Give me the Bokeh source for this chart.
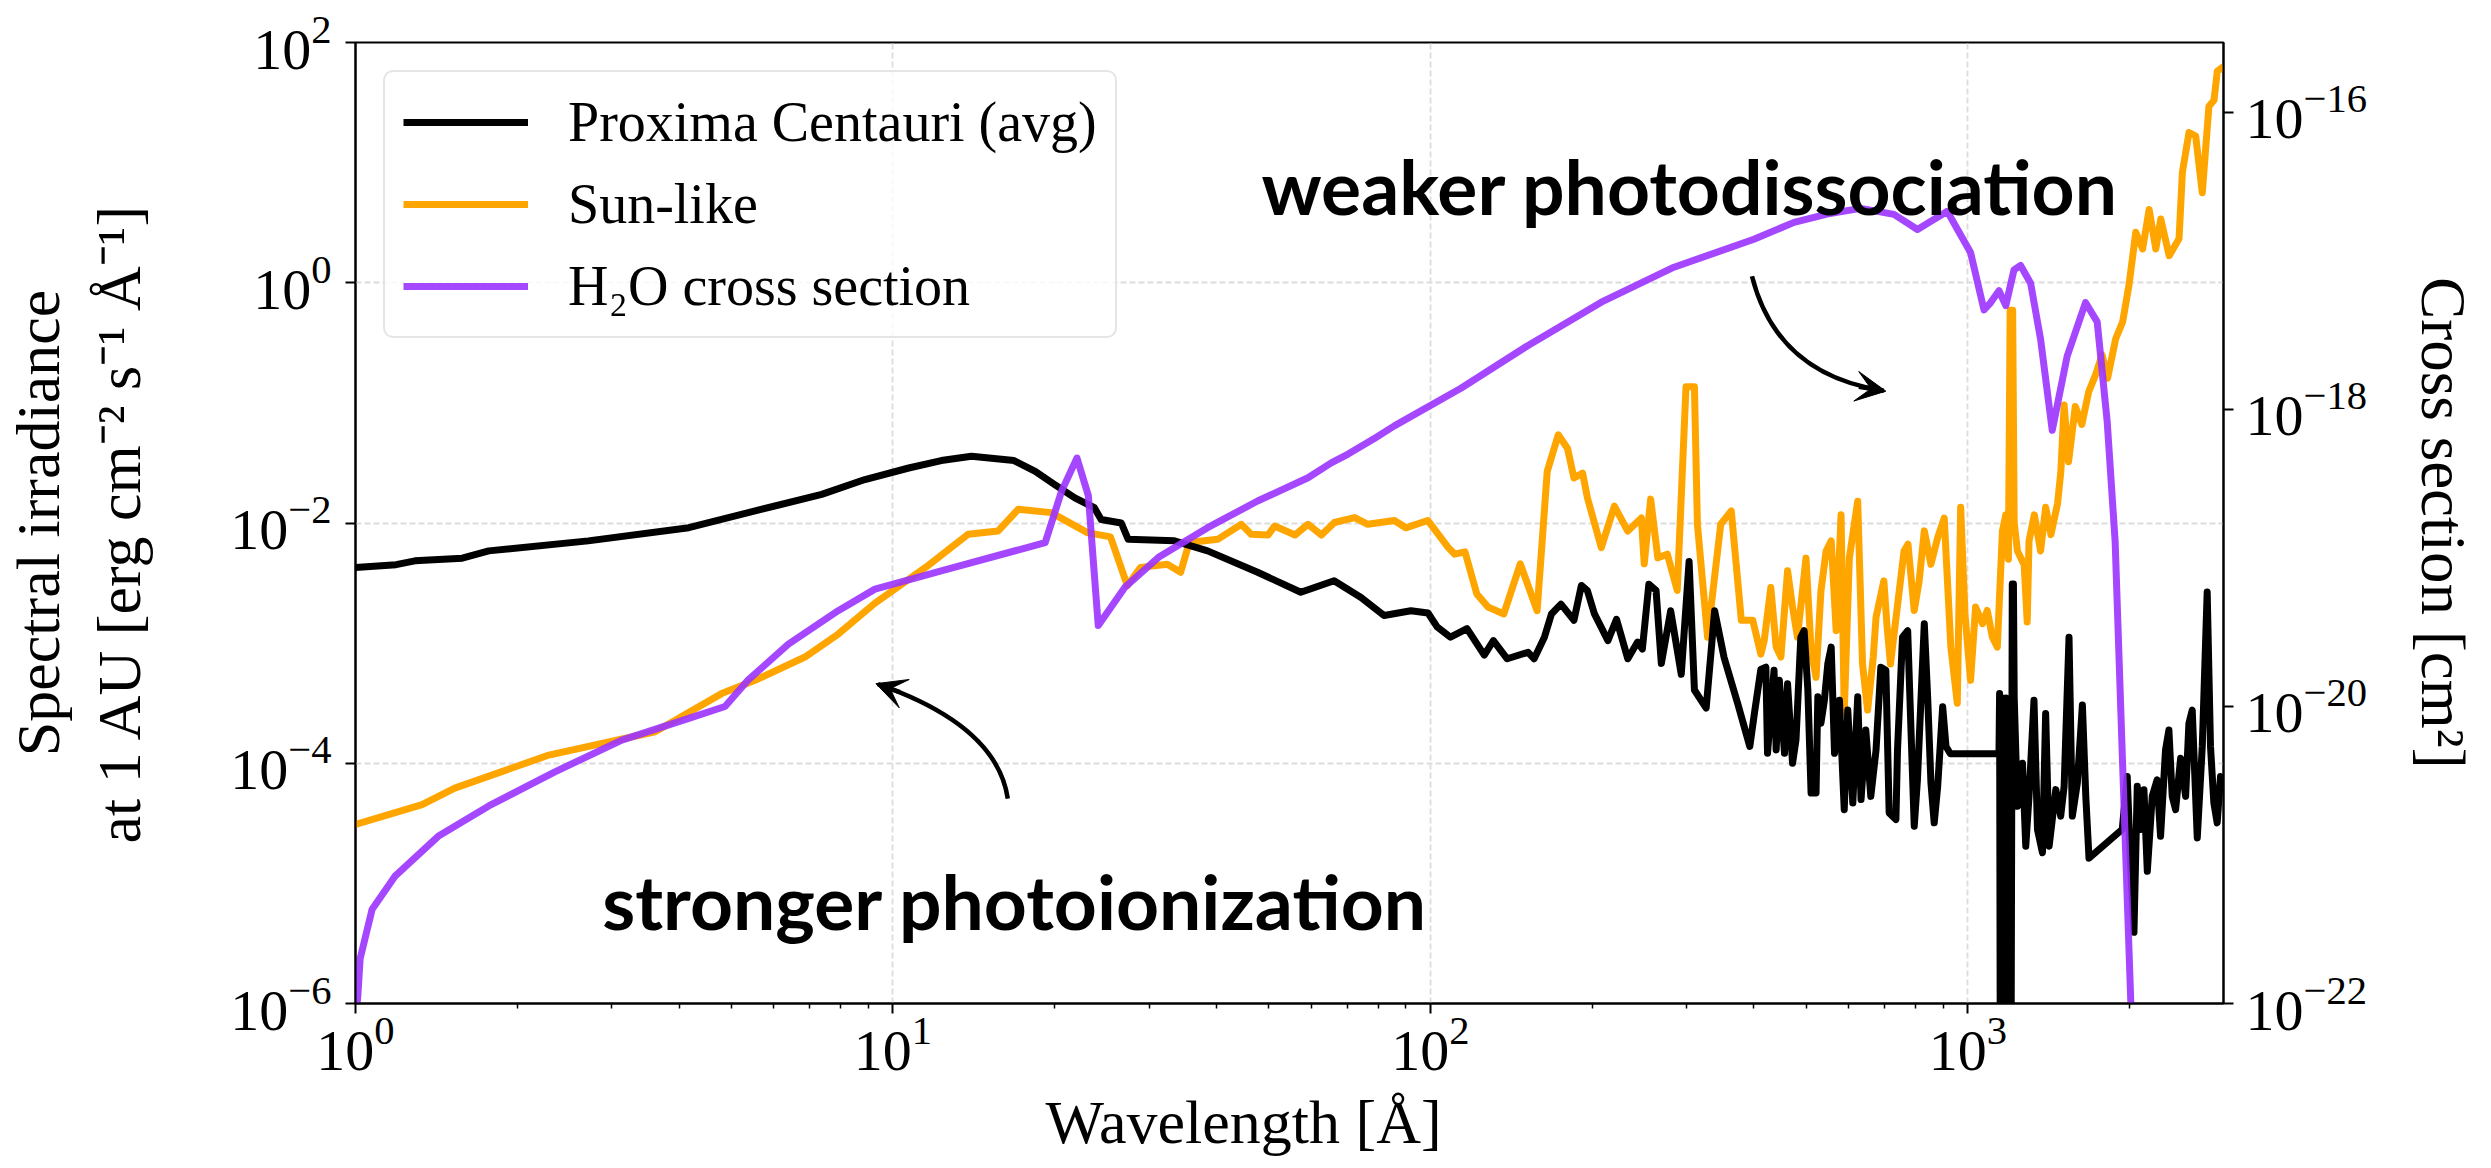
import numpy as np
from bokeh.plotting import figure
from bokeh.models import (Range1d, LogScale, LogAxis, FixedTicker, Legend, LegendItem,
                          Label, Arrow, VeeHead, Title)
from bokeh.embed import file_html
from bokeh.resources import INLINE

# ---------------- data ----------------
prox_wl = [1.00, 1.19, 1.29, 1.58, 1.77, 2.71, 4.17, 5.54, 7.37, 8.87, 10.7, 12.3, 14.0, 16.8,
           18.4, 20.0, 21.8, 23.7, 24.4, 26.6, 27.4, 33.4, 38.5, 47.7, 57.4, 66.2, 74.3, 82, 92,
           99, 103, 109, 117, 126, 131, 139, 152, 156, 163, 168, 175, 185, 191, 196, 202, 214,
           222, 233, 243, 248, 255, 263, 269, 280, 293, 303, 310, 326, 338, 352, 373, 393, 401,
           412, 421, 424, 436, 440, 446, 456, 462, 472, 479, 489, 496, 504, 511, 522, 526, 533,
           541, 549, 557, 565, 577, 589, 598, 611, 624, 633, 646, 660, 675, 689, 704, 714, 735,
           740, 756, 773, 784, 795, 806, 830, 842, 854, 866, 879, 898, 911, 928,
           1143, 1146, 1152, 1160, 1168, 1178, 1188, 1200, 1210, 1216, 1220,
           1237, 1264, 1282, 1300, 1328, 1348, 1377, 1396, 1417, 1458, 1489, 1511, 1543, 1565,
           1599, 1634, 1658, 1681, 1938, 1980, 2009, 2038, 2067, 2097, 2127, 2158, 2204, 2251,
           2284, 2333, 2367, 2401, 2436, 2489, 2543, 2579, 2616, 2673, 2731, 2789, 2829, 2870,
           2911, 2953, 3017]
prox_flux = [4.27e-3, 4.50e-3, 4.84e-3, 5.09e-3, 5.86e-3, 7.10e-3, 9.14e-3, 1.26e-2, 1.73e-2,
             2.30e-2, 2.87e-2, 3.31e-2, 3.59e-2, 3.31e-2, 2.69e-2, 2.09e-2, 1.62e-2, 1.34e-2,
             1.07e-2, 1.0e-2, 7.31e-3, 7.10e-3, 5.86e-3, 3.89e-3, 2.65e-3, 3.31e-3, 2.40e-3,
             1.70e-3, 1.86e-3, 1.78e-3, 1.36e-3, 1.12e-3, 1.32e-3, 7.94e-4, 1.05e-3, 7.41e-4,
             8.39e-4, 7.41e-4, 1.12e-3, 1.75e-3, 2.11e-3, 1.55e-3, 3.02e-3, 2.73e-3, 1.75e-3,
             1.05e-3, 1.58e-3, 7.41e-4, 1.02e-3, 8.91e-4, 3.09e-3, 2.75e-3, 6.76e-4, 1.86e-3,
             5.50e-4, 4.79e-3, 4.07e-4, 2.88e-4, 1.86e-3, 7.59e-4, 3.16e-4, 1.38e-4, 2.63e-4,
             6.03e-4, 6.3e-4, 1.21e-4, 5.94e-4, 1.29e-4, 4.91e-4, 1.21e-4, 4.6e-4, 1.0e-4,
             1.56e-4, 1.12e-3, 1.27e-3, 4.06e-4, 5.65e-5, 5.65e-5, 3.57e-4, 2.15e-4, 3.35e-4,
             6.74e-4, 9.27e-4, 1.21e-4, 3.35e-4, 4.11e-5, 2.77e-4, 4.67e-5, 3.57e-4, 4.98e-5,
             1.89e-4, 5.3e-5, 1.29e-4, 6.3e-4, 5.94e-4, 3.86e-5, 3.4e-5, 1.29e-4, 1.12e-3,
             1.27e-3, 1.89e-4, 2.99e-5, 7.28e-5, 1.45e-3, 3.57e-4, 6.84e-5, 3.19e-5, 6.42e-5,
             2.95e-4, 1.38e-4, 1.2e-4,
             1.20e-4, 3.8e-4, 1e-9, 3.5e-4, 1e-9, 3.5e-4, 1e-9, 1e-9, 3.1e-3, 3.1e-3, 3.57e-4,
             4.38e-5, 1.0e-4, 2.04e-5, 5.3e-5, 3.35e-4, 2.81e-5, 1.8e-5, 2.6e-4, 2.04e-5,
             6.03e-5, 3.63e-5, 6.42e-5, 1.12e-3, 3.63e-5, 6.84e-5, 3.05e-4, 5.3e-5, 1.62e-5,
             2.81e-5, 7.76e-5, 1.39e-5, 3.91e-6, 6.42e-5, 2.81e-5, 6.03e-5, 1.26e-5, 5.3e-5,
             7.28e-5, 2.47e-5, 1.29e-4, 1.89e-4, 5.3e-5, 4.11e-5, 1.1e-4, 5.3e-5, 2.15e-4,
             2.77e-4, 2.39e-5, 1.38e-4, 2.67e-3, 1.38e-4, 4.67e-5, 3.19e-5, 7.76e-5, 5.9e-5]

sun_wl = [1.00, 1.33, 1.53, 2.29, 3.61, 4.8, 5.54, 6.86, 7.91, 9.26, 11.5, 13.8, 15.7, 17.1,
          19.7, 23.0, 25.4, 27.3, 28.9, 32.4, 34.3, 35.6, 40.2, 44.5, 46.4, 49.9, 51.3, 56,
          59.2, 62.7, 66.3, 72.3, 76.5, 85.7, 90, 98.9, 108, 111, 116, 122, 128, 137, 147, 158,
          165, 173, 180, 185, 192, 196, 208, 220, 233, 247, 250, 257, 265, 276, 288, 299, 310,
          314, 328, 347, 363, 379, 398, 412, 418, 430, 440, 449, 462, 472, 482, 500, 511, 522,
          533, 545, 557, 569, 581, 589, 602, 624, 637, 651, 667, 675, 698, 707, 718, 728, 761,
          774, 795, 812, 830, 854, 879, 904, 930, 956, 970, 988, 1012, 1034, 1065, 1087, 1111,
          1135, 1160, 1177, 1190, 1199, 1212, 1220, 1237, 1273, 1290, 1300, 1330, 1366, 1396,
          1428, 1469, 1490, 1511, 1540, 1585, 1630, 1679, 1729, 1778, 1820, 1885, 1941, 1995,
          2054, 2115, 2175, 2238, 2286, 2370, 2472, 2508, 2580, 2655, 2731, 2810, 2872, 2912,
          2990]
sun_flux = [3.09e-5, 4.52e-5, 6.21e-5, 1.17e-4, 1.83e-4, 3.80e-4, 4.91e-4, 7.66e-4, 1.19e-3,
            2.15e-3, 4.27e-3, 8.05e-3, 8.59e-3, 1.30e-2, 1.22e-2, 8.32e-3, 7.66e-3, 3.01e-3,
            4.27e-3, 4.54e-3, 3.89e-3, 6.87e-3, 7.31e-3, 9.75e-3, 8.05e-3, 7.94e-3, 9.44e-3,
            7.94e-3, 9.75e-3, 7.94e-3, 1.01e-2, 1.11e-2, 9.75e-3, 1.05e-2, 9.12e-3, 1.05e-2,
            6.24e-3, 5.50e-3, 5.75e-3, 2.57e-3, 2.0e-3, 1.75e-3, 4.57e-3, 1.86e-3, 2.69e-2,
            5.42e-2, 4.17e-2, 2.37e-2, 2.60e-2, 1.62e-2, 6.24e-3, 1.38e-2, 8.57e-3, 1.10e-2,
            4.57e-3, 1.58e-2, 5.13e-3, 5.50e-3, 2.75e-3, 0.136, 0.136, 9.77e-3, 1.12e-3,
            9.77e-3, 1.26e-2, 1.55e-3, 1.55e-3, 8.1e-4, 1.05e-3, 2.9e-3, 9.27e-4, 7.66e-4,
            4.0e-3, 2.0e-3, 1.12e-3, 5.1e-3, 8.7e-4, 5.2e-4, 2.7e-3, 5.85e-3, 7.1e-3, 1.27e-3,
            1.17e-2, 2.6e-4, 5.1e-3, 1.52e-2, 6.7e-4, 2.77e-4, 7.66e-4, 1.64e-3, 3.3e-3,
            1.45e-3, 6.7e-4, 1.12e-3, 5.85e-3, 6.65e-3, 1.87e-3, 3.3e-3, 8.6e-3, 4.54e-3,
            7.55e-3, 1.1e-2, 9.27e-4, 3.16e-4, 1.35e-2, 1.75e-3, 4.9e-4, 2.0e-3, 1.45e-3,
            1.87e-3, 1.12e-3, 9.27e-4, 8.6e-3, 1.17e-2, 5.0e-3, 0.589, 0.589, 1.0e-2, 5.85e-3,
            4.5e-3, 1.5e-3, 7.1e-3, 1.17e-2, 5.85e-3, 1.35e-2, 8.0e-3, 1.45e-2, 2.69e-2,
            9.6e-2, 3.24e-2, 9.33e-2, 6.61e-2, 0.124, 0.171, 0.251, 0.16, 0.343, 0.471, 0.955,
            2.63, 1.91, 4.07, 1.91, 3.39, 1.68, 2.32, 8.32, 17.8, 16.6, 5.62, 29.5, 33.1, 57.5,
            63.0]

h2o_wl = [1.00, 1.01, 1.02, 1.074, 1.186, 1.43, 1.77, 2.35, 3.13, 4.17, 4.87, 5.38, 6.39,
          7.91, 9.26, 12.3, 19.2, 20.6, 22.0, 23.1, 24.1, 27.0, 31.2, 38.5, 47.7, 59.2, 65.4,
          70.3, 78.8, 85.7, 114, 152, 208, 284, 400, 475, 547, 632, 729, 806, 916, 957, 1012,
          1072, 1103, 1143, 1177, 1219, 1254, 1309, 1366, 1436, 1531, 1656, 1741, 1817, 1880,
          1941, 2011, 2040]
h2o_xs = [7.9e-23, 1.12e-22, 2.0e-22, 4.32e-22, 7.24e-22, 1.35e-21, 2.14e-21, 3.63e-21,
          5.94e-21, 8.32e-21, 1.0e-20, 1.51e-20, 2.63e-20, 4.42e-20, 6.17e-20, 8.18e-20,
          1.27e-19, 2.82e-19, 4.71e-19, 2.63e-19, 3.51e-20, 6.34e-20, 1.01e-19, 1.60e-19,
          2.42e-19, 3.47e-19, 4.37e-19, 5.01e-19, 6.41e-19, 7.76e-19, 1.39e-18, 2.70e-18,
          5.28e-18, 9.08e-18, 1.40e-17, 1.82e-17, 2.07e-17, 2.26e-17, 2.06e-17, 1.63e-17,
          2.16e-17, 1.63e-17, 1.14e-17, 4.68e-18, 5.25e-18, 6.31e-18, 5.01e-18, 8.71e-18,
          9.33e-18, 7.08e-18, 2.98e-18, 7.24e-19, 2.29e-18, 5.25e-18, 3.89e-18, 8.32e-19,
          1.3e-19, 4.17e-21, 1.0e-22, 2.5e-23]

x_ticks = [1, 10, 100, 1000]
x_minor = [m * d for d in (1, 10, 100) for m in range(2, 10)] + [2000, 3000]
y_ticks = [1e-6, 1e-4, 1e-2, 1, 100]
xs_ticks = [1e-22, 1e-20, 1e-18, 1e-16]

# ---------------- layout helpers (pixel -> data for in-frame annotations) ----------------
FL, FR, FT, FB = 353, 2223, 42, 1008
XMAX = 2991
DEC_X = (FR - FL) / np.log10(XMAX)
DEC_Y = (FB - FT) / 8.0


def X(px):
    return 10 ** ((px - FL) / DEC_X)


def Y(py):
    return 10 ** (2 - (py - FT) / DEC_Y)


SERIF = "Liberation Serif"
PURPLE = "#9b33ff"
ORANGE = "#ffa500"
LW = 7

p = figure(width=2491, height=1168, x_axis_type="log", y_axis_type="log",
           x_range=Range1d(1, XMAX), y_range=Range1d(1e-6, 1e2),
           output_backend="svg", toolbar_location=None,
           min_border_left=FL, min_border_right=2491 - FR, min_border_top=FT,
           min_border_bottom=1168 - FB)
p.extra_y_ranges = {"xs": Range1d(1e-22, 2.96e-16)}
p.extra_y_scales = {"xs": LogScale()}

p.outline_line_color = "black"
p.outline_line_width = 2
p.background_fill_color = "white"
p.border_fill_color = "white"

rax = LogAxis(y_range_name="xs")
p.add_layout(rax, "right")

p.xaxis[0].ticker = FixedTicker(ticks=x_ticks, minor_ticks=x_minor)
p.yaxis[0].ticker = FixedTicker(ticks=y_ticks, minor_ticks=[])
rax.ticker = FixedTicker(ticks=xs_ticks, minor_ticks=[])

for ax in [p.xaxis[0], p.yaxis[0], rax]:
    ax.axis_line_color = "black"
    ax.axis_line_width = 2
    ax.major_tick_line_color = "black"
    ax.major_tick_line_width = 2
    ax.major_tick_out = 10
    ax.major_tick_in = 0
    ax.minor_tick_line_color = "black"
    ax.minor_tick_line_width = 1.5
    ax.minor_tick_out = 5
    ax.minor_tick_in = 0
    ax.major_label_text_font = SERIF
    ax.major_label_text_font_size = "58px"
    ax.major_label_text_color = "black"
    ax.axis_label_text_font = SERIF
    ax.axis_label_text_font_style = "normal"
    ax.axis_label_text_color = "black"
p.xaxis[0].major_label_standoff = 4
p.yaxis[0].major_label_standoff = 14
rax.major_label_standoff = 12

# y axis titles
p.yaxis[0].axis_label = ("Spectral irradiance\n"
                         "at 1 AU [erg cm\u207b\u00b2 s\u207b\u00b9 \u00c5\u207b\u00b9]")
p.yaxis[0].axis_label_text_font_size = "62px"
p.yaxis[0].axis_label_text_line_height = 1.2
p.yaxis[0].axis_label_standoff = 74
rax.axis_label = "Cross section [cm\u00b2]"
rax.axis_label_text_font_size = "63px"
rax.axis_label_standoff = 38

for g in [p.xgrid[0], p.ygrid[0]]:
    g.grid_line_color = "#dcdcdc"
    g.grid_line_dash = "6 3"
    g.grid_line_width = 1.8

r_sun = p.line(sun_wl, sun_flux, color=ORANGE, line_width=LW, line_join="round")
r_prox = p.line(prox_wl, prox_flux, color="black", line_width=LW, line_join="round")
r_h2o = p.line(h2o_wl, h2o_xs, color=PURPLE, line_width=LW, line_alpha=0.9,
               line_join="round", y_range_name="xs")

legend = Legend(items=[LegendItem(label="Proxima Centauri (avg)", renderers=[r_prox]),
                       LegendItem(label="Sun-like", renderers=[r_sun]),
                       LegendItem(label="H\u2082O cross section", renderers=[r_h2o])],
                location="top_left", margin=28, padding=18, spacing=18,
                glyph_width=125, glyph_height=50, label_height=64, label_standoff=40,
                label_text_font=SERIF, label_text_font_size="56px",
                label_text_color="black",
                border_line_color="#cccccc", border_line_width=2,
                background_fill_color="white", background_fill_alpha=0.8)
if "border_radius" in Legend.properties():
    legend.border_radius = 10
p.add_layout(legend)

# x axis title as a side-panel title (left aligned with an offset, like the reference)
p.add_layout(Title(text="Wavelength [\u00c5]", text_font=SERIF, text_font_style="normal",
                   text_color="black", text_font_size="62px", align="left", offset=690,
                   standoff=26), "below")

# annotations
BOLD = dict(text_font="Lato", text_font_style="bold", text_font_size="75px",
            text_color="black", text_baseline="alphabetic", text_align="left")
p.add_layout(Label(x=X(1260), y=Y(186.7), text="weaker photodissociation", **BOLD))
p.add_layout(Label(x=X(600), y=Y(905), text="stronger photoionization", **BOLD))

# curved arrows
p.quadratic(x0=[X(1751), X(1006)], y0=[Y(277), Y(802)],
            x1=[X(1883), X(876)], y1=[Y(392), Y(687)],
            cx=[X(1776), X(995)], cy=[Y(376), Y(728.6)],
            line_color="black", line_width=4.5)
p.add_layout(Arrow(end=VeeHead(size=30, fill_color="black", line_color="black"),
                   x_start=X(1858), y_start=Y(388), x_end=X(1885), y_end=Y(392.5),
                   line_color="black", line_width=4.5))
p.add_layout(Arrow(end=VeeHead(size=30, fill_color="black", line_color="black"),
                   x_start=X(898), y_start=Y(695), x_end=X(874), y_end=Y(686.5),
                   line_color="black", line_width=4.5))

open("out.html", "w").write(file_html(p, INLINE))
